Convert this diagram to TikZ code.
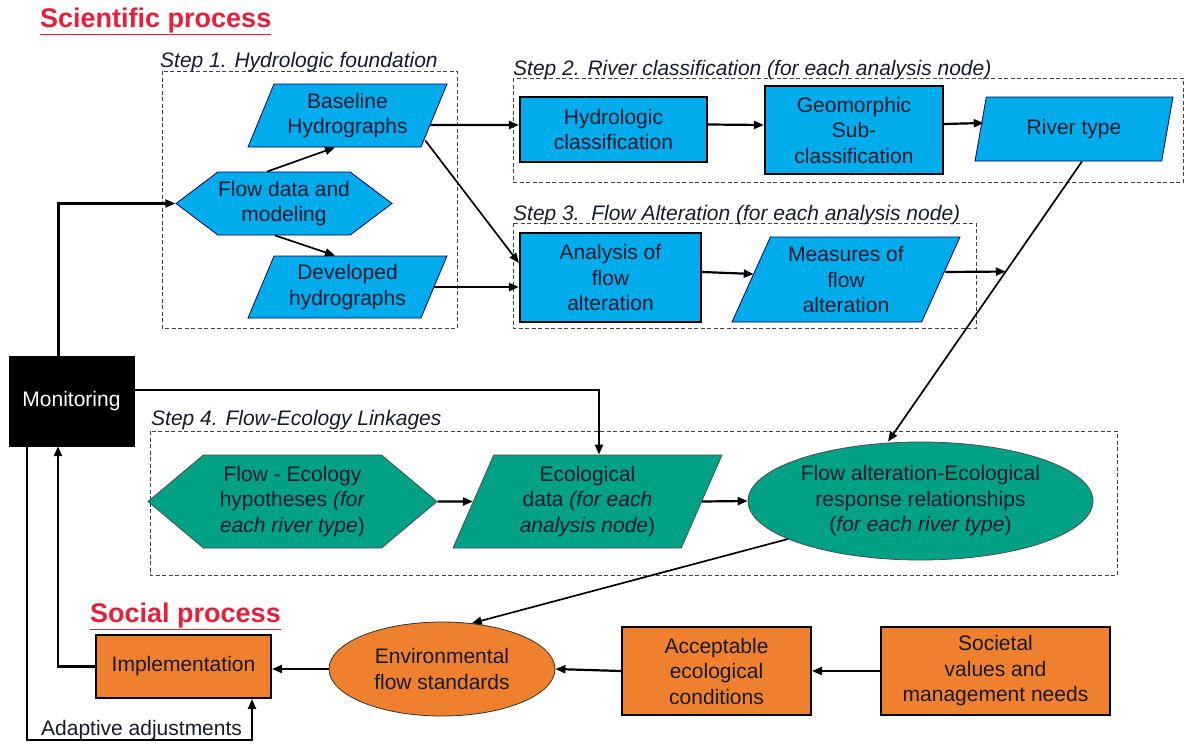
\documentclass[tikz,border=0pt]{standalone}
\usepackage{fontspec}
\setmainfont{Liberation Sans}
\usetikzlibrary{shapes.geometric,shapes.symbols,arrows.meta,calc}

\definecolor{flowblue}{RGB}{0,172,236}
\definecolor{ecoteal}{RGB}{0,161,132}
\definecolor{socialorange}{RGB}{238,128,46}
\definecolor{titlered}{RGB}{232,30,58}
\definecolor{inkdark}{RGB}{25,25,45}

\begin{document}
\begin{tikzpicture}[
    x=1pt, y=-1pt,
    font=\fontsize{21}{25.5}\selectfont,
    every node/.style={text=inkdark, align=center, inner sep=0pt},
    frame/.style={draw=black!75, line width=1pt, dash pattern=on 4pt off 2.5pt},
    steplabel/.style={font=\fontsize{21}{25.5}\selectfont\itshape, anchor=base west},
    heading/.style={font=\fontsize{27}{30}\selectfont\bfseries, text=titlered, anchor=base west},
    bluebox/.style={rectangle, draw=black, line width=2.2pt, fill=flowblue},
    bluepara/.style={trapezium, trapezium left angle=60, trapezium right angle=120,
                     trapezium stretches body, draw=blue!35!black, line width=0.8pt, fill=flowblue},
    bluehex/.style={signal, signal to=west and east, signal pointer angle=74,
                    draw=blue!35!black, line width=0.8pt, fill=flowblue},
    ecohex/.style={signal, signal to=west and east, signal pointer angle=80,
                   draw=black!70, line width=0.8pt, fill=ecoteal},
    ecopara/.style={trapezium, trapezium left angle=60, trapezium right angle=120,
                    trapezium stretches body, draw=black!70, line width=0.8pt, fill=ecoteal},
    ecoellipse/.style={ellipse, draw=black!70, line width=0.8pt, fill=ecoteal},
    socialbox/.style={rectangle, draw=black, line width=2pt, fill=socialorange},
    socialellipse/.style={ellipse, draw=black!80, line width=0.8pt, fill=socialorange},
    arrow/.style={-{Triangle[length=10pt,width=8pt]}, line width=2.2pt, draw=black}
]
\useasboundingbox (0,0) rectangle (1184,745);

% Headings
\node[heading] (scihead) at (40,27) {\underline{Scientific process}};
\node[heading] (sochead) at (90,622) {\underline{Social process}};

% Step frames
\draw[frame] (162,71) rectangle (457,328);
\draw[frame] (513,78) rectangle (1183,182);
\draw[frame] (513,223) rectangle (976,328);
\draw[frame] (150,431) rectangle (1117,575);
\node[steplabel] (step1) at (160,67) {Step 1. Hydrologic foundation};
\node[steplabel] (step2) at (513,75) {Step 2. River classification (for each analysis node)};
\node[steplabel] (step3) at (513,220) {Step 3.\ \ Flow Alteration (for each analysis node)};
\node[steplabel] (step4) at (151,425) {Step 4. Flow-Ecology Linkages};

% Step 1: Hydrologic foundation
\node[bluepara, minimum width=199, minimum height=63] (baseline) at (347.5,115.5) {Baseline\\Hydrographs};
\node[bluehex, minimum width=216, minimum height=63] (flowdata) at (284,203.5) {Flow data and\\modeling};
\node[bluepara, minimum width=199, minimum height=62] (developed) at (347.5,287) {Developed\\hydrographs};

% Step 2: River classification
\node[bluebox, minimum width=187, minimum height=65] (hydclass) at (613.5,129.5) {Hydrologic\\classification};
\node[bluebox, minimum width=178, minimum height=88] (geomorph) at (854,130) {Geomorphic\\Sub-\\classification};
\node[bluepara, minimum width=198, minimum height=64] (rivertype) at (1074,129) {River type};

% Step 3: Flow alteration
\node[bluebox, minimum width=181, minimum height=89] (analysis) at (610.5,277.5) {Analysis of\\flow\\alteration};
\node[bluepara, minimum width=228, minimum height=85] (measures) at (846,279.5) {Measures of\\flow\\alteration};

% Monitoring
\node[rectangle, fill=black, draw=black, minimum width=125, minimum height=90, text=white] (monitoring) at (71.5,401) {Monitoring};

% Step 4: Flow-ecology linkages
\node[ecohex, minimum width=289, minimum height=93] (hypo) at (292.5,501.5) {Flow - Ecology\\hypotheses \textit{(for}\\\textit{each river type})};
\node[ecopara, minimum width=269, minimum height=93] (ecodata) at (587.5,501.5) {Ecological\\data \textit{(for each}\\\textit{analysis node})};
\node[ecoellipse, minimum width=345, minimum height=118] (response) at (920.5,501) {Flow alteration-Ecological\\response relationships\\(\textit{for each river type})};

% Social process
\node[socialbox, minimum width=175, minimum height=63] (implement) at (183.5,666.5) {Implementation};
\node[socialellipse, minimum width=226, minimum height=94] (envflow) at (442,669) {Environmental\\flow standards};
\node[socialbox, minimum width=189, minimum height=88] (acceptable) at (716.5,671) {Acceptable\\ecological\\conditions};
\node[socialbox, minimum width=229, minimum height=88] (societal) at (995.5,671) {Societal\\values and\\management needs};
\node[anchor=base west] (adjlabel) at (41,735) {Adaptive adjustments};

% Arrows inside the scientific process
\draw[arrow, line width=1.7pt] ([xshift=-17pt]flowdata.north) -- ([xshift=-12.5pt]baseline.south);
\draw[arrow, line width=1.7pt] ([xshift=-9pt]flowdata.south) -- ([xshift=-12.5pt]developed.north);
\draw[arrow] ([shift={(-4pt,-9.5pt)}]baseline.east) -- ([yshift=4.5pt]hydclass.west);
\draw[arrow, line width=1.7pt] ([shift={(4pt,7pt)}]baseline.bottom right corner) -- ([yshift=14.5pt]analysis.west);
\draw[arrow] (developed.east) -- (developed.east -| analysis.west);
\draw[arrow] ([yshift=5pt]hydclass.east) -- ([yshift=5pt]geomorph.west);
\draw[arrow] ([yshift=6pt]geomorph.east) -- ([shift={(3.5pt,6pt)}]rivertype.west);
\draw[arrow] ([yshift=5.5pt]analysis.east) -- ([shift={(3pt,5.5pt)}]measures.west);
\path ([xshift=8pt]rivertype.south) -- ([xshift=-32.5pt]response.north) coordinate[pos=0.393] (merge);
\draw[arrow, line width=1.7pt] ([xshift=8pt]rivertype.south) -- ([xshift=-32.5pt]response.north);
\draw[arrow] ([shift={(4pt,7.5pt)}]measures.east) -- (merge);

% Monitoring feedback
\draw[arrow] ([xshift=-13pt]monitoring.north) |- (flowdata.west);
\draw[arrow] ([yshift=11pt]monitoring.east) -| ([xshift=11.5pt]ecodata.north);

% Step 4 arrows
\draw[arrow] (hypo.east) -- (ecodata.west);
\draw[arrow] (ecodata.east) -- (response.west);
\draw[arrow, line width=1.7pt] (response.196) -- (envflow.57);

% Social process arrows
\draw[arrow] (societal.west) -- (acceptable.east);
\draw[arrow] (acceptable.west) -- (envflow.east);
\draw[arrow] (envflow.west) -- (envflow.west -| implement.east);
\draw[arrow] (implement.west) -| ([xshift=-13.5pt]monitoring.south);
\draw[arrow] ([xshift=-44.5pt]monitoring.south) -- ++(0,294) -| ([xshift=68.5pt]implement.south);

\end{tikzpicture}
\end{document}
